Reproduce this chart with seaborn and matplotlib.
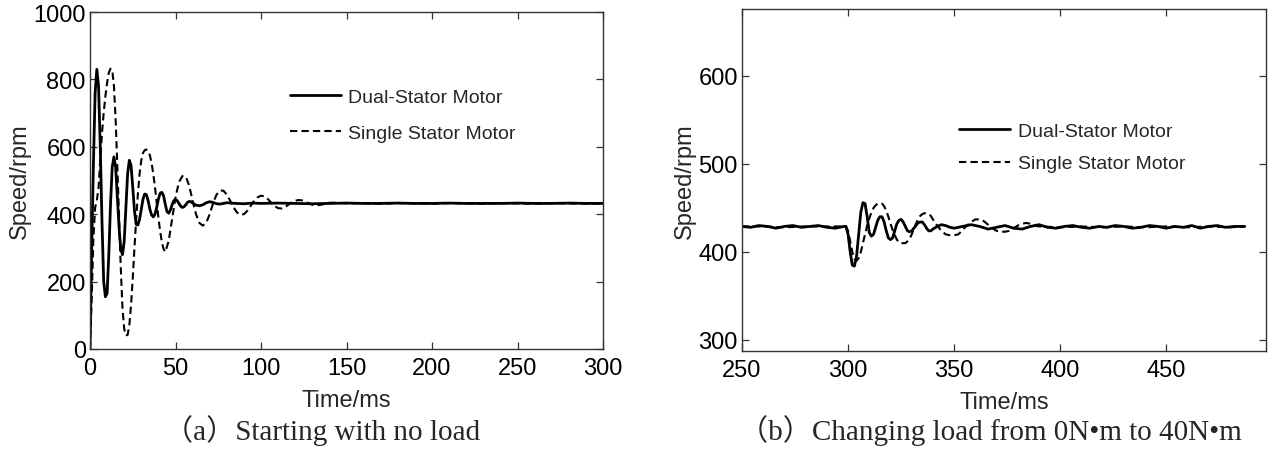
import numpy as np
import pandas as pd
import matplotlib
matplotlib.use("Agg")
import matplotlib.pyplot as plt
import seaborn as sns

# ---------------- data ----------------
# (a) Starting with no load
a_dual_t = [0, 1, 2, 3, 4, 5, 6, 7, 8, 9, 10, 11, 12, 13, 14, 15, 16, 17, 18, 19,
            20, 21, 22, 23, 24, 25, 26, 27, 28, 29, 30, 31, 32, 33, 34, 35, 36, 37, 38, 39,
            40, 41, 42, 43, 44, 45, 46, 47, 48, 49, 50, 51, 52, 53, 54, 55, 56, 57, 58, 59,
            60, 62, 64, 66, 68, 70, 72, 74, 76, 78, 80, 85, 90, 95, 100, 110, 120, 130, 140,
            150, 160, 170, 180, 190, 200, 210, 220, 230, 240, 250, 260, 270, 280, 290, 300]
a_dual_v = [0, 300, 550, 760, 830, 780, 600, 380, 200, 155, 165, 280, 430, 540, 570, 540, 450, 360, 295, 280,
            320, 420, 520, 560, 545, 480, 410, 370, 368, 385, 415, 445, 460, 458, 440, 415, 398, 392, 400, 420,
            445, 462, 465, 455, 430, 408, 403, 412, 428, 440, 444, 440, 432, 424, 420, 422, 428, 435, 438, 437,
            433, 427, 425, 428, 434, 437, 435, 431, 430, 432, 434, 432, 431, 433, 432, 433, 432, 431, 432,
            433, 432, 432, 433, 432, 432, 433, 432, 432, 432, 433, 432, 432, 433, 432, 432]

a_single_t = [0, 1, 2, 3, 4, 5, 6, 7, 8, 9, 10, 11, 12, 13, 14, 15, 16, 17, 18, 19,
              20, 21, 22, 23, 24, 25, 26, 27, 28, 29, 30, 31, 32, 33, 34, 35, 36, 37, 38, 39,
              40, 41, 42, 43, 44, 46, 48, 50, 52, 54, 56, 58, 60, 62, 64, 66, 68, 70, 72, 74,
              76, 78, 80, 82, 84, 86, 88, 90, 92, 94, 96, 98, 100, 102, 104, 106, 108, 110, 112, 114,
              116, 118, 120, 122, 124, 126, 128, 130, 132, 134, 136, 138, 140, 145, 150, 160, 170, 180,
              190, 200, 210, 220, 230, 240, 250, 260, 270, 280, 290, 300]
a_single_v = [0, 150, 330, 420, 440, 480, 560, 640, 700, 750, 790, 820, 832, 828, 780, 680, 540, 390, 240, 120,
              60, 40, 42, 70, 130, 210, 300, 385, 460, 520, 560, 582, 590, 592, 588, 575, 552, 520, 480, 435,
              390, 350, 318, 297, 288, 320, 385, 450, 495, 513, 512, 485, 440, 400, 374, 366, 375, 400, 433, 458,
              470, 470, 458, 440, 420, 405, 398, 400, 410, 425, 440, 450, 455, 453, 445, 434, 424, 418, 417, 421,
              428, 435, 440, 442, 441, 437, 432, 428, 426, 427, 429, 432, 434, 434, 432, 433, 431, 433,
              432, 431, 433, 432, 431, 433, 432, 431, 433, 432, 431, 432]

# (b) Changing load from 0N*m to 40N*m
b_dual_t = [250, 254, 258, 262, 266, 270, 274, 278, 282, 286, 290, 294, 298, 299, 300, 301, 302, 303, 304, 305,
            306, 307, 308, 309, 310, 311, 312, 313, 314, 315, 316, 317, 318, 319, 320, 321, 322, 323, 324, 325,
            326, 327, 328, 329, 330, 331, 332, 333, 334, 335, 336, 337, 338, 339, 340, 342, 344, 346, 348, 350,
            354, 358, 362, 366, 370, 374, 378, 382, 386, 390, 394, 398, 402, 406, 410, 414, 418, 422, 426, 430,
            434, 438, 442, 446, 450, 454, 458, 462, 466, 470, 474, 478, 482, 487]
b_dual_v = [429, 428, 430, 429, 427, 429, 430, 428, 429, 430, 428, 427, 429, 429, 420, 400, 385, 384, 395, 420,
            445, 456, 455, 440, 422, 418, 420, 428, 436, 440, 440, 434, 424, 416, 414, 416, 424, 432, 436, 437,
            434, 429, 424, 423, 424, 427, 430, 433, 434, 434, 431, 427, 424, 424, 426, 429, 431, 430, 428, 427,
            429, 431, 429, 426, 428, 430, 427, 426, 429, 431, 428, 427, 429, 430, 428, 427, 429, 428, 430, 429,
            427, 428, 430, 429, 427, 429, 428, 430, 427, 429, 430, 428, 429, 429]

b_single_t = [250, 260, 270, 280, 290, 299, 300, 301, 302, 303, 304, 305, 306, 307, 308, 309, 310, 311, 312, 313,
              314, 315, 316, 317, 318, 319, 320, 321, 322, 323, 324, 325, 326, 327, 328, 329, 330, 331, 332, 333,
              334, 335, 336, 337, 338, 339, 340, 342, 344, 346, 348, 350, 352, 354, 356, 358, 360, 362, 364, 366,
              368, 370, 372, 374, 376, 378, 380, 382, 384, 386, 388, 390, 400, 410, 420, 430, 440, 450, 460, 470,
              480, 487]
b_single_v = [429, 429, 428, 429, 429, 429, 424, 412, 400, 392, 390, 393, 400, 410, 420, 430, 438, 445, 450, 453,
              455, 455, 455, 452, 447, 440, 432, 425, 419, 414, 411, 410, 410, 410, 412, 415, 420, 426, 432, 437,
              441, 443, 444, 444, 443, 441, 437, 430, 424, 420, 419, 419, 420, 425, 430, 434, 437, 437, 435, 431,
              427, 424, 423, 423, 424, 427, 430, 432, 433, 432, 430, 429, 428, 429, 428, 429, 428, 429, 428, 429,
              428, 429]

series_labels = ["Dual-Stator Motor", "Single Stator Motor"]
a_xticks = [0, 50, 100, 150, 200, 250, 300]
a_yticks = [0, 200, 400, 600, 800, 1000]
b_xticks = [250, 300, 350, 400, 450]
b_yticks = [300, 400, 500, 600]
captions = ["（a）Starting with no load", "（b）Changing load from 0N•m to 40N•m"]

# ---------------- styling ----------------
sns.set_style("ticks")
plt.rcParams["font.family"] = ["Liberation Sans", "DejaVu Sans"]
plt.rcParams["xtick.direction"] = "in"
plt.rcParams["ytick.direction"] = "in"

FS = 17
LFS = 14
fig = plt.figure(figsize=(12.68, 4.52), dpi=100)
axA = fig.add_axes([90 / 1268, 102 / 452, 513 / 1268, 337 / 452])
axB = fig.add_axes([742 / 1268, 100 / 452, 524 / 1268, 342 / 452])

dfA1 = pd.DataFrame({"t": a_dual_t, "v": a_dual_v})
dfA2 = pd.DataFrame({"t": a_single_t, "v": a_single_v})
dfB1 = pd.DataFrame({"t": b_dual_t, "v": b_dual_v})
dfB2 = pd.DataFrame({"t": b_single_t, "v": b_single_v})

for ax, d1, d2 in [(axA, dfA1, dfA2), (axB, dfB1, dfB2)]:
    sns.lineplot(data=d2, x="t", y="v", ax=ax, color="black", linewidth=1.5,
                 linestyle=(0, (3.5, 2.0)), label=series_labels[1])
    sns.lineplot(data=d1, x="t", y="v", ax=ax, color="black", linewidth=2.0,
                 label=series_labels[0])

axA.set_xlim(0, 300)
axA.set_ylim(0, 1000)
axA.set_xticks(a_xticks)
axA.set_yticks(a_yticks)
axB.set_xlim(250, 497)
axB.set_ylim(287.5, 676)
axB.set_xticks(b_xticks)
axB.set_yticks(b_yticks)

for ax in (axA, axB):
    for s in ax.spines.values():
        s.set_visible(True)
        s.set_color("#333333")
        s.set_linewidth(1.0)
    ax.tick_params(axis="both", which="both", direction="in", length=5, width=0.9,
                   top=True, right=True, labelsize=FS, colors="#333333", labelcolor="black")
    ax.tick_params(axis="x", pad=6)
    ax.tick_params(axis="y", pad=3)
    ax.set_xlabel("Time/ms", fontsize=FS, labelpad=7)
    ax.set_ylabel("Speed/rpm", fontsize=FS, labelpad=2)
    h, l = ax.get_legend_handles_labels()
    order = [l.index(series_labels[0]), l.index(series_labels[1])]
    h = [h[i] for i in order]
    l = [l[i] for i in order]
    if ax is axA:
        anchor = (0.39, 0.695)
        spacing = 0.95
    else:
        anchor = (0.415, 0.595)
        spacing = 0.75
    ax.legend(h, l, loc="center left", bbox_to_anchor=anchor, frameon=False,
              fontsize=LFS, handlelength=2.6, handletextpad=0.4,
              labelspacing=spacing, borderpad=0, borderaxespad=0)

cap_font = ["Liberation Serif", "Noto Sans CJK SC", "DejaVu Sans"]
fig.text(322 / 1268, 1 - 431 / 452, captions[0], ha="center", va="center",
         fontsize=21, family=cap_font)
fig.text(990 / 1268, 1 - 431 / 452, captions[1], ha="center", va="center",
         fontsize=21, family=cap_font)

fig.savefig("out.png", dpi=100)
